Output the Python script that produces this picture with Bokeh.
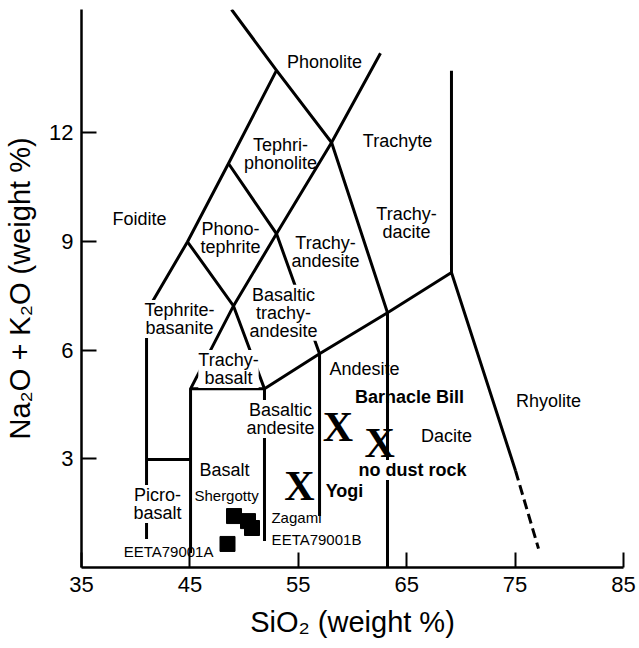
from bokeh.plotting import figure
from bokeh.models import FixedTicker, Range1d
from bokeh.core.properties import value
from bokeh.embed import file_html
from bokeh.resources import INLINE

# ---- TAS field boundaries (SiO2 wt%, Na2O+K2O wt%) ----
boundary_sio2 = [
    [48.84, 52.99, 58.07, 63.23, 63.23],
    [52.99, 48.56, 44.78, 41.0, 41.0],
    [48.56, 52.99, 56.96, 56.96],
    [44.78, 49.02, 51.88, 51.88],
    [45.06, 45.06, 49.02, 52.99, 58.07, 62.58],
    [45.06, 51.88, 56.96, 63.23, 69.13, 75.04],
    [69.13, 69.13],
    [41.0, 45.06],
]
boundary_alk = [
    [15.40, 13.72, 11.73, 7.03, 0.0],
    [13.72, 11.15, 8.99, 7.06, 0.79],
    [11.15, 9.21, 5.90, 1.42],
    [8.99, 7.22, 4.93, 0.73],
    [0.40, 4.93, 7.22, 9.21, 11.73, 14.19],
    [4.93, 4.93, 5.90, 7.03, 8.14, 2.67],
    [8.14, 13.71],
    [2.98, 2.98],
]
dashed_sio2 = [75.04, 77.16]
dashed_alk = [2.67, 0.52]

# ---- field names ----
field_names = ["Phonolite", "Tephri-\nphonolite", "Trachyte", "Foidite", "Phono-\ntephrite",
               "Trachy-\nandesite", "Trachy-\ndacite", "Andesite", "Rhyolite", "Dacite", "Basalt"]
field_sio2 = [57.42, 53.36, 64.15, 40.35, 48.75, 57.51, 64.98, 61.11, 78.08, 68.67, 48.19]
field_alk = [13.96, 11.42, 11.78, 9.63, 9.10, 8.72, 9.52, 5.48, 4.60, 3.63, 2.69]

# field names drawn over boundaries (with white box)
boxed_names = ["Basaltic\ntrachy-\nandesite", "Tephrite-\nbasanite", "Trachy-\nbasalt",
               "Basaltic\nandesite", "Picro-\nbasalt"]
boxed_sio2 = [53.63, 44.04, 48.56, 53.36, 42.01]
boxed_alk = [7.03, 6.86, 5.48, 4.10, 1.75]

# ---- Pathfinder rocks (X) ----
rock_sio2 = [55.1, 58.66, 62.5]
rock_alk = [2.24, 3.87, 3.43]
rock_names = ["Yogi", "Barnacle Bill", "no dust rock"]
rock_name_sio2 = [59.26, 65.26, 65.54]
rock_name_alk = [2.11, 4.71, 2.69]

# ---- SNC meteorites (squares) ----
snc_sio2 = [49.07, 50.36, 50.73, 48.47]
snc_alk = [1.42, 1.28, 1.09, 0.65]
snc_names = ["Shergotty", "Zagami", "EETA79001B", "EETA79001A"]
snc_name_sio2 = [48.38, 54.83, 56.68, 43.03]
snc_name_alk = [1.98, 1.39, 0.77, 0.43]

x_ticks = [35, 45, 55, 65, 75, 85]
y_ticks = [3, 6, 9, 12]

FONT = "Liberation Sans"

p = figure(width=639, height=648, output_backend="svg", toolbar_location=None,
           x_range=Range1d(35, 85), y_range=Range1d(0, 15.4),
           min_border_left=81, min_border_right=16, min_border_top=9, min_border_bottom=81)
p.outline_line_color = None
p.xgrid.visible = False
p.ygrid.visible = False
p.background_fill_color = "white"

for ax in (p.xaxis[0], p.yaxis[0]):
    ax.axis_line_width = 2.5
    ax.axis_line_color = "black"
    ax.major_tick_in = 15
    ax.major_tick_out = 0
    ax.major_tick_line_width = 2
    ax.major_tick_line_color = "black"
    ax.minor_tick_line_color = None
    ax.major_label_text_font = FONT
    ax.major_label_text_font_size = "22px"
    ax.major_label_text_color = "black"
    ax.axis_label_text_font = FONT
    ax.axis_label_text_font_size = "29px"
    ax.axis_label_text_font_style = "normal"
    ax.axis_label_text_color = "black"

p.xaxis.ticker = FixedTicker(ticks=x_ticks)
p.yaxis.ticker = FixedTicker(ticks=y_ticks)
p.xaxis.axis_label = "SiO\u2082 (weight %)"
p.yaxis.axis_label = "Na\u2082O + K\u2082O (weight %)"
p.xaxis.major_label_standoff = 9
p.yaxis.major_label_standoff = 8
p.xaxis.axis_label_standoff = 11
p.yaxis.axis_label_standoff = 10

p.multi_line(xs=boundary_sio2, ys=boundary_alk, line_color="black", line_width=3, line_join="miter")
p.line(dashed_sio2, dashed_alk, line_color="black", line_width=3, line_dash="10 5")

p.text(x=field_sio2, y=field_alk, text=field_names, text_font=value(FONT), text_font_size="18px",
       text_align="center", text_baseline="middle", text_line_height=0.9, text_color="black")
p.text(x=boxed_sio2, y=boxed_alk, text=boxed_names, text_font=value(FONT), text_font_size="18px",
       text_align="center", text_baseline="middle", text_line_height=0.9, text_color="black",
       background_fill_color="white")
p.text(x=rock_name_sio2, y=rock_name_alk, text=rock_names, text_font=value(FONT),
       text_font_size="18px", text_font_style="bold", text_align="center", text_baseline="middle",
       text_color="black", background_fill_color=["white", None, "white"])
p.text(x=snc_name_sio2, y=snc_name_alk, text=snc_names, text_font=value(FONT),
       text_font_size="15px", text_align="center", text_baseline="middle", text_color="black")

p.text(x=rock_sio2, y=rock_alk, text=["X"] * len(rock_sio2), text_font=value("Liberation Serif"),
       text_font_size="42px", text_font_style="bold", text_align="center", text_baseline="middle",
       text_color="black")
p.scatter(snc_sio2, snc_alk, marker="square", size=15, fill_color="black", line_color="black")

open("out.html", "w").write(file_html(p, INLINE))
